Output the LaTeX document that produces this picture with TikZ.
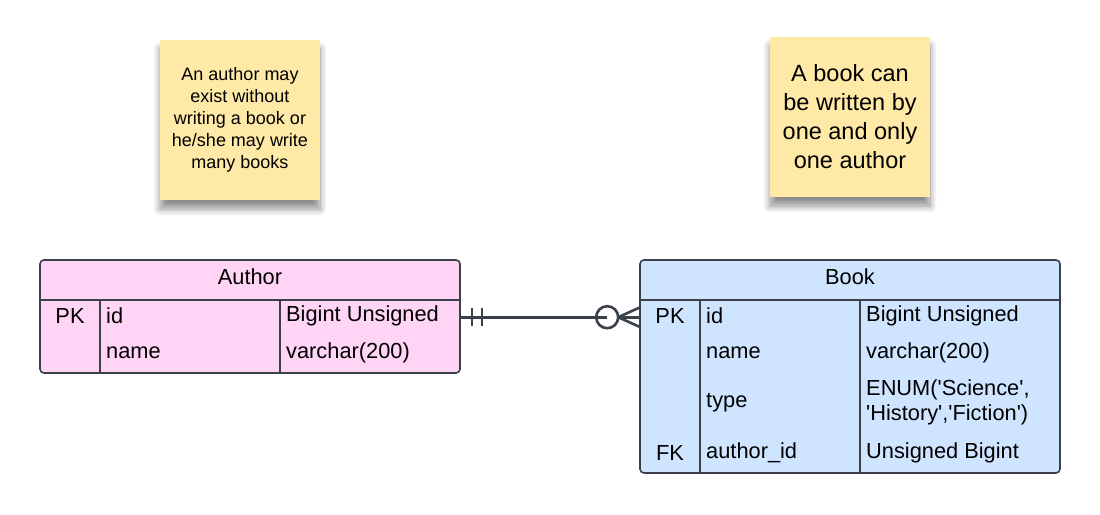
\documentclass[tikz,border=0pt]{standalone}
\usepackage{fontspec}
\setmainfont{Liberation Sans}
\usetikzlibrary{calc,shadows.blur}
\definecolor{edge}{HTML}{3A414A}
\definecolor{pinkfill}{HTML}{FFD4F4}
\definecolor{bluefill}{HTML}{CFE4FF}
\definecolor{stickyfill}{HTML}{FFE9A6}
\newcommand{\sq}{\textquotesingle}
\tikzset{
  sticky/.style={fill=stickyfill, minimum width=160pt, minimum height=160pt, inner sep=0pt, align=center,
    blur shadow={shadow xshift=0pt, shadow yshift=-9pt, shadow blur radius=7pt, shadow blur steps=12, shadow opacity=45}},
  entity/.style={draw=edge, line width=1.6pt, rounded corners=4pt, inner sep=0pt},
  rule/.style={draw=edge, line width=1.6pt},
  cell/.style={font=\fontsize{21.8}{25.5}\selectfont, inner sep=0pt, anchor=west},
  keycell/.style={font=\fontsize{21.8}{25.5}\selectfont, inner sep=0pt},
  conn/.style={draw=edge, line width=2.6pt},
}
\begin{document}
\begin{tikzpicture}[x=1pt,y=-1pt]
\useasboundingbox (0,0) rectangle (1100,514);
% sticky notes
\node[sticky, font=\fontsize{18}{22}\selectfont] (note1) at (240,120)
  {An author may\\exist without\\writing a book or\\he/she may write\\many books};
\node[sticky, font=\fontsize{23.5}{29}\selectfont] (note2) at (850,117)
  {A book can\\be written by\\one and only\\one author};
% Author entity
\node[entity, fill=pinkfill, minimum width=420pt, minimum height=113pt] (author) at (250,316.5) {};
\draw[rule] (40,300) -- (460,300);
\draw[rule] (100,300) -- (100,373);
\draw[rule] (280,300) -- (280,373);
\node[keycell] (atitle) at (250,277) {Author};
\node[keycell] (apk) at (70,315.5) {PK};
\node[cell] (aid) at (106,315.5) {id};
\node[cell] (aidt) at (286,315.5) {Bigint Unsigned};
\node[cell] (aname) at (106,352.5) {name};
\node[cell] (anamet) at (286,352.5) {varchar(200)};
% Book entity
\node[entity, fill=bluefill, minimum width=420pt, minimum height=213pt] (book) at (850,366.5) {};
\draw[rule] (640,300) -- (1060,300);
\draw[rule] (700,300) -- (700,473);
\draw[rule] (860,300) -- (860,473);
\node[keycell] (btitle) at (850,277) {Book};
\node[keycell] (bpk) at (670,315.5) {PK};
\node[cell] (bid) at (706,315.5) {id};
\node[cell] (bidt) at (866,315.5) {Bigint Unsigned};
\node[cell] (bname) at (706,352.5) {name};
\node[cell] (bnamet) at (866,352.5) {varchar(200)};
\node[cell] (btype) at (706,403) {type};
\node[cell, align=left] (btypet) at (866,402.5) {ENUM(\sq Science\sq,\\\sq History\sq,\sq Fiction\sq)};
\node[keycell] (bfk) at (670,452.5) {FK};
\node[cell] (bauth) at (706,452.5) {author\_id};
\node[cell] (bautht) at (866,452.5) {Unsigned Bigint};
% relationship
\coordinate (cA) at ($(author.north east)+(0,58)$);
\coordinate (cB) at ($(book.north west)+(0,58)$);
\draw[conn] (cA) -- ($(cB)+(-32,0)$);
\draw[conn] ($(cB)+(-21,0)$) -- (cB);
\draw[conn] ($(cA)+(11,-9)$) -- ($(cA)+(11,9)$);
\draw[conn] ($(cA)+(21,-9)$) -- ($(cA)+(21,9)$);
\draw[conn] ($(cB)+(-32,0)$) circle (11pt);
\draw[conn] ($(cB)+(-21,0)$) -- ($(cB)+(0,-9.5)$);
\draw[conn] ($(cB)+(-21,0)$) -- ($(cB)+(0,9.5)$);
\end{tikzpicture}
\end{document}
